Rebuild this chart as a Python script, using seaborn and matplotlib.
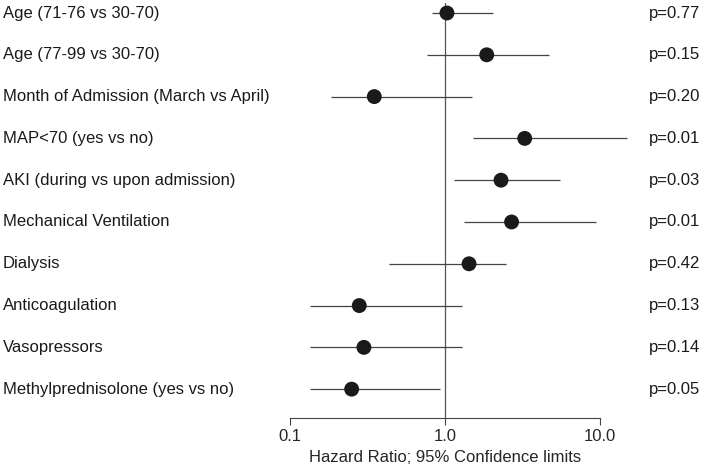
import numpy as np
import pandas as pd
import seaborn as sns
import matplotlib.pyplot as plt
from matplotlib import transforms

# values
variables = [
    "Age (71-76 vs 30-70)",
    "Age (77-99 vs 30-70)",
    "Month of Admission (March vs April)",
    "MAP<70 (yes vs no)",
    "AKI (during vs upon admission)",
    "Mechanical Ventilation",
    "Dialysis",
    "Anticoagulation",
    "Vasopressors",
    "Methylprednisolone (yes vs no)",
]
hazard_ratio = [1.03, 1.86, 0.35, 3.27, 2.30, 2.69, 1.43, 0.28, 0.30, 0.25]
ci_low = [0.83, 0.77, 0.183, 1.51, 1.15, 1.33, 0.437, 0.135, 0.135, 0.135]
ci_high = [2.05, 4.69, 1.49, 15.0, 5.52, 9.39, 2.49, 1.29, 1.29, 0.93]
p_values = ["p=0.77", "p=0.15", "p=0.20", "p=0.01", "p=0.03",
            "p=0.01", "p=0.42", "p=0.13", "p=0.14", "p=0.05"]
x_ticks = [0.1, 1.0, 10.0]
x_ticklabels = ["0.1", "1.0", "10.0"]

df = pd.DataFrame({
    "variable": variables,
    "hr": hazard_ratio,
    "lo": ci_low,
    "hi": ci_high,
    "p": p_values,
})
df["row"] = np.arange(len(df))

sns.set_style("white")
plt.rcParams["font.family"] = ["Liberation Sans", "DejaVu Sans"]

fig = plt.figure(figsize=(7.05, 4.73), dpi=100)
ax = fig.add_axes([0.4113, 0.1163, 0.4397, 0.8774])

# confidence intervals
ax.hlines(df["row"], df["lo"], df["hi"], color="#444444", linewidth=0.9,
          clip_on=False, zorder=2)
# reference line at HR = 1
ax.axvline(1.0, color="#555555", linewidth=0.9, zorder=1)
# point estimates
sns.scatterplot(data=df, x="hr", y="row", ax=ax, s=115, color="#1a1a1a",
                edgecolor="none", zorder=3, clip_on=False, legend=False)

ax.set_xscale("log")
ax.set_xlim(0.1, 10)
ax.set_ylim(9.69, -0.24)
ax.set_xticks(x_ticks)
ax.set_xticklabels(x_ticklabels, fontsize=12)
ax.xaxis.set_minor_locator(plt.NullLocator())
ax.tick_params(axis="x", direction="out", length=5, width=0.8,
               color="#444444", bottom=True, pad=3)
ax.set_yticks([])
ax.set_ylabel("")
ax.set_xlabel("Hazard Ratio; 95% Confidence limits", fontsize=12, labelpad=4)

for side in ["top", "right", "left"]:
    ax.spines[side].set_visible(False)
ax.spines["bottom"].set_color("#444444")
ax.spines["bottom"].set_linewidth(0.8)

# row labels on the left and p-values on the right
trans = transforms.blended_transform_factory(fig.transFigure, ax.transData)
for _, r in df.iterrows():
    ax.text(0.004, r["row"], r["variable"], transform=trans, ha="left",
            va="center", fontsize=12, color="#1a1a1a")
    ax.text(0.993, r["row"], r["p"], transform=trans, ha="right",
            va="center", fontsize=12, color="#1a1a1a")

fig.savefig("out.png", dpi=100, facecolor="white")
